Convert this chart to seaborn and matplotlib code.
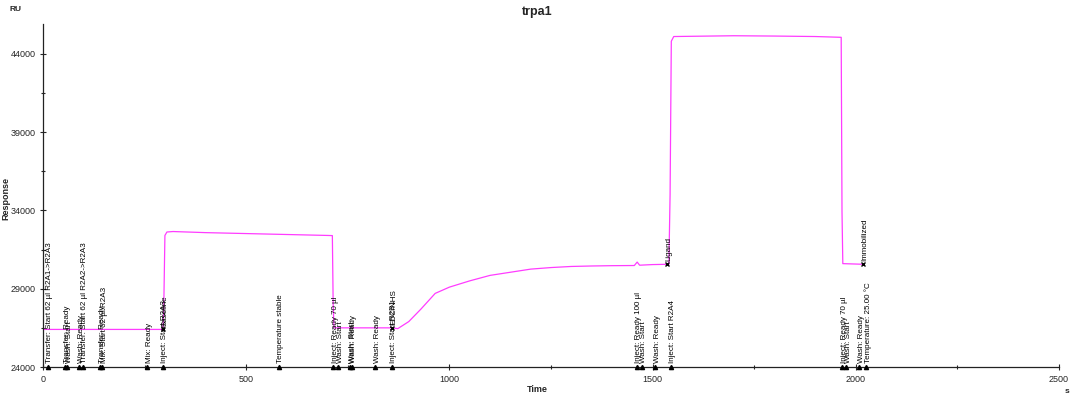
import numpy as np
import pandas as pd
import seaborn as sns
import matplotlib
matplotlib.use("Agg")
import matplotlib.pyplot as plt
import matplotlib.ticker as ticker

# sensorgram trace
time_s = [0, 290, 295, 297, 300, 305, 320, 400, 500, 600, 700, 712, 714, 716,
          760, 860, 873, 900, 930, 965, 1000, 1050, 1100, 1150, 1200, 1250,
          1300, 1350, 1400, 1455, 1462, 1468, 1500, 1540, 1543, 1546, 1552,
          1700, 1800, 1900, 1964, 1966, 1968, 2018]
response_ru = [26400, 26400, 26450, 27500, 32400, 32620, 32650, 32580, 32520,
               32460, 32400, 32390, 28000, 26500, 26500, 26500, 26450, 26900,
               27700, 28700, 29100, 29500, 29850, 30050, 30250, 30350, 30420,
               30450, 30470, 30480, 30700, 30500, 30540, 30560, 35000, 44800,
               45100, 45150, 45130, 45100, 45050, 33900, 30600, 30560]

# event markers on the time axis
event_times = [12, 55, 59, 89, 98, 141, 145, 256, 295, 580, 714, 726, 756, 760,
               817, 858, 1461, 1473, 1506, 1545, 1966, 1976, 2008, 2025]
event_labels = ["Transfer: Start 62 µl R2A1->R2A3", "Transfer: Ready", "Wash: Start",
                "Wash: Ready", "Transfer: Start 62 µl R2A2->R2A3", "Transfer: Ready",
                "Mix: Start 62 µl R2A3", "Mix: Ready", "Inject: Start R2A3",
                "Temperature stable", "Inject: Ready 70 µl", "Wash: Start",
                "Wash: Start", "Wash: Ready", "Wash: Ready", "Inject: Start R2B1",
                "Inject: Ready 100 µl", "Wash: Start", "Wash: Ready", "Inject: Start R2A4",
                "Inject: Ready 70 µl", "Wash: Start", "Wash: Ready", "Temperature: 25.00 °C"]

# flags set on the curve
flag_times = [295, 858, 1535, 2018]
flag_values = [26450, 26500, 30560, 30560]
flag_labels = ["Baseline", "EDC/NHS", "Ligand", "Immobilized"]

sns.set_style("ticks")
plt.rcParams["font.family"] = ["Liberation Sans", "DejaVu Sans"]
plt.rcParams["font.size"] = 6

df = pd.DataFrame({"Time": time_s, "Response": response_ru})

fig = plt.figure(figsize=(10.72, 3.96), dpi=100)
ax = fig.add_axes([0.0401, 0.0732, 0.9478, 0.8662])

sns.lineplot(data=df, x="Time", y="Response", ax=ax, color="#ff3cff",
             linewidth=0.9, sort=False, estimator=None)

ax.set_xlim(0, 2500)
ax.set_ylim(24000, 45900)

# 底部事件標記
ax.plot(event_times, [24000] * len(event_times), linestyle="none", marker="^",
        markersize=3, color="black", clip_on=False, zorder=5)
for t, lab in zip(event_times, event_labels):
    ax.annotate(lab, (t, 24000), xytext=(1.5, 3), textcoords="offset points",
                rotation=90, ha="center", va="bottom", fontsize=5.8, color="black")

# 曲線上的標記
ax.plot(flag_times, flag_values, linestyle="none", marker="x", markersize=3.5,
        markeredgewidth=1, color="black", zorder=5)
for t, v, lab in zip(flag_times, flag_values, flag_labels):
    ax.annotate(lab, (t, v), xytext=(1.5, 2), textcoords="offset points",
                rotation=90, ha="center", va="bottom", fontsize=5.8, color="black")

ax.set_xticks([0, 500, 1000, 1500, 2000, 2500])
ax.set_yticks([24000, 29000, 34000, 39000, 44000])
ax.xaxis.set_minor_locator(ticker.FixedLocator([250, 750, 1250, 1750, 2250]))
ax.yaxis.set_minor_locator(ticker.FixedLocator([26500, 31500, 36500, 41500]))
ax.tick_params(which="major", direction="inout", length=5, width=0.8, labelsize=6.5,
               pad=3)
ax.tick_params(which="minor", direction="inout", length=2.5, width=0.8)
for sp in ["top", "right"]:
    ax.spines[sp].set_visible(False)
for sp in ["left", "bottom"]:
    ax.spines[sp].set_linewidth(0.9)
    ax.spines[sp].set_color("#222222")

ax.set_xlabel("")
ax.set_ylabel("")
fig.text(0.501, 0.985, "trpa1", ha="center", va="top", fontsize=9, fontweight="bold")
fig.text(0.501, 0.0175, "Time", ha="center", va="center", fontsize=6.5, fontweight="bold")
fig.text(0.0056, 0.5, "Response", ha="center", va="center", rotation=90,
         fontsize=6.5, fontweight="bold")
fig.text(0.0145, 0.975, "RU", ha="center", va="center", fontsize=6, fontweight="bold")
fig.text(0.995, 0.0125, "s", ha="center", va="center", fontsize=6, fontweight="bold")

fig.savefig("out.png", dpi=100)
